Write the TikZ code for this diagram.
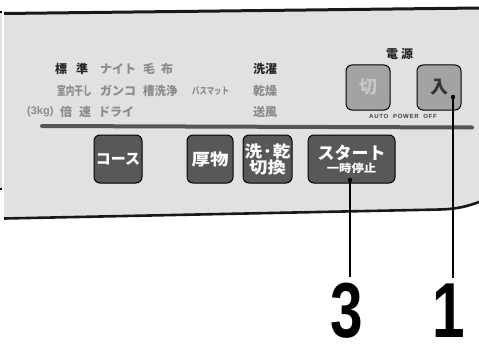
\documentclass[tikz,border=0pt]{standalone}
\usepackage{fontspec}
\usepackage{graphicx}
\setmainfont{Liberation Sans}
\newfontfamily\cjk{Noto Sans CJK JP}
\definecolor{panelgray}{HTML}{E1E1E1}
\definecolor{labelgray}{HTML}{8C8C8C}
\definecolor{keydark}{HTML}{585858}
\definecolor{keylight}{HTML}{A3A3A3}
\definecolor{barcol}{HTML}{555555}
\newcommand{\sq}[2]{\scalebox{#1}[1]{#2}}
\tikzset{
  lbl/.style={anchor=west, inner sep=0pt, text=labelgray, font=\cjk\bfseries\fontsize{12}{12}\selectfont},
  lblon/.style={lbl, text=black!85},
  darkkey/.style={draw=black, line width=1pt, rounded corners=6pt, fill=keydark, text=white, inner sep=0pt, align=center, font=\cjk\bfseries\fontsize{15}{15}\selectfont},
  powerkey/.style={darkkey, fill=keylight, font=\cjk\bfseries\fontsize{18}{18}\selectfont},
  leader/.style={line width=2.4pt, black},
  bignum/.style={inner sep=0pt, anchor=base, font=\bfseries\fontsize{78}{78}\selectfont}
}
\begin{document}
\begin{tikzpicture}[x=1pt, y=-1pt]
    \useasboundingbox (0,0) rectangle (479,345);

    % --- 1. 面板底色与边框 ---
    \fill[panelgray] (4,13.5) -- (479,8) -- (479,202) .. controls (468,206) and (458,209) .. (440,209.5) -- (4,218.5) -- cycle;
    \draw[line width=3pt, black!90] (4,13.5) -- (479,8); % 上沿
    \draw[line width=2.6pt, black!90] (4,218.5) -- (440,209.5) .. controls (458,209) and (468,206) .. (479,202); % 下沿
    % 左边相邻面板的一条
    \fill[panelgray] (0,13) rectangle (1.8,189);
    \fill[black] (0,11) rectangle (1.8,13.5);
    \fill[black] (0,187.5) rectangle (1.8,190);

    % 分隔条
    \draw[barcol, line width=4pt, line cap=round] (42,126) -- (472,127.5);

    % --- 2. 行程文字 ---
    \node[lblon] (hyojun) at (55,69) {標\hspace{9pt}準};
    \node[lbl] (naito) at (100,69) {ナイト};
    \node[lbl] (mofu) at (143,69) {毛\hspace{6pt}布};
    \node[lbl] (heyaboshi) at (57,91) {\sq{0.72}{室内干し}};
    \node[lbl] (ganko) at (100,91) {ガンコ};
    \node[lbl] (sosenjo) at (143,91) {\sq{0.95}{槽洗浄}};
    \node[lbl, font=\cjk\bfseries\fontsize{9.5}{9.5}\selectfont] (basumatto) at (192,91) {\sq{0.78}{バスマット}};
    \node[lbl, font=\bfseries\fontsize{11}{11}\selectfont] (kg) at (27,112) {(3kg)};
    \node[lbl] (baisoku) at (60,112) {倍\hspace{7pt}速};
    \node[lbl] (dorai) at (98,112) {ドライ};

    \node[lblon] (sentaku) at (253,69) {洗濯};
    \node[lbl] (kanso) at (253,91) {乾燥};
    \node[lbl] (sofu) at (253,112) {送風};

    % --- 3. 电源 ---
    \node[lblon] (dengen) at (386,54) {電\hspace{3pt}源};
    \node[powerkey, minimum width=44pt, minimum height=45pt, text=white!78!black] (kiri) at (368,87.5) {切};
    \node[powerkey, minimum width=44pt, minimum height=45pt, text=black!80] (iri) at (439,87.5) {入};
    \node[inner sep=0pt, text=black!75, font=\bfseries\fontsize{6}{6}\selectfont\addfontfeature{LetterSpace=12}] (autooff) at (403,116.5) {AUTO\ \ POWER\ \ OFF};

    % --- 4. 按键 ---
    \node[darkkey, minimum width=48pt, minimum height=48pt] (course) at (118,159) {コース};
    \node[darkkey, minimum width=46pt, minimum height=48pt, font=\cjk\bfseries\fontsize{16}{16}\selectfont] (atsumono) at (210,159) {\sq{1.15}{厚物}};
    \node[darkkey, minimum width=49pt, minimum height=48pt, font=\cjk\bfseries\fontsize{16}{16}\selectfont] (senkan) at (267.5,159) {\sq{1.1}{洗·乾}\\\sq{1.15}{切換}};
    \node[darkkey, minimum width=87pt, minimum height=48pt] (start) at (351.5,159)
      {{\fontsize{17}{17}\selectfont スタート}\\[-2pt]{\fontsize{11}{11}\selectfont\sq{1.12}{一時停止}}};

    % --- 5. 引线与编号 ---
    \node[bignum] (num3) at (347,337) {\sq{0.75}{3}};
    \node[bignum] (num1) at (449,337) {\sq{0.75}{1}};
    \coordinate (dot3) at (350,180);
    \coordinate (dot1) at (453,97);
    \fill (dot3) circle (2.2pt);
    \fill (dot1) circle (2.2pt);
    \draw[leader, shorten >=5pt] (dot3) -- (dot3 |- num3.north);
    \draw[leader, shorten >=5pt] (dot1) -- (dot1 |- num1.north);

\end{tikzpicture}
\end{document}
